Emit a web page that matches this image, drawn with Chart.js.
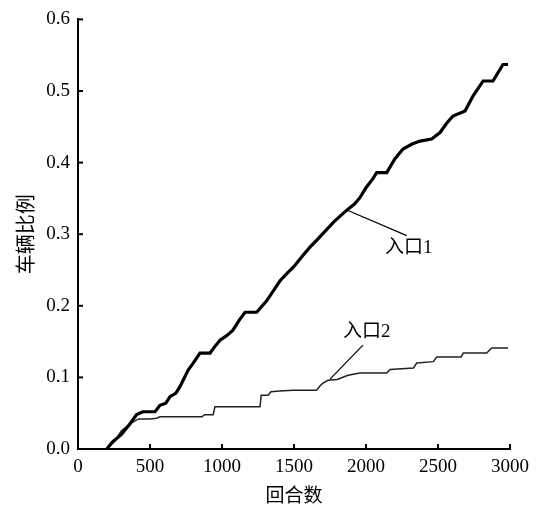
<!DOCTYPE html>
<html>
<head>
<meta charset="utf-8">
<script src="https://cdn.jsdelivr.net/npm/chart.js@4/dist/chart.umd.min.js"></script>
<style>
  html, body { margin: 0; padding: 0; background: #fff; }
  #wrap { width: 537px; height: 508px; }
</style>
</head>
<body>
<div id="wrap"><canvas id="ratioChart"></canvas></div>
<script>
// 入口1 (thick line)
const rounds1 = [200, 240, 300, 360, 407, 451, 535, 569, 610, 639, 680, 708, 764, 800, 847, 917, 950, 986, 1030, 1076, 1120, 1160, 1241, 1310, 1360, 1403, 1450, 1500, 1560, 1611, 1660, 1720, 1780, 1830, 1875, 1920, 1958, 2000, 2049, 2074, 2144, 2200, 2257, 2320, 2375, 2456, 2514, 2560, 2604, 2688, 2743, 2813, 2882, 2951, 2986];
const ratio1  = [0, 0.01, 0.02, 0.035, 0.048, 0.052, 0.052, 0.061, 0.064, 0.073, 0.078, 0.087, 0.11, 0.12, 0.134, 0.134, 0.143, 0.152, 0.158, 0.166, 0.18, 0.191, 0.191, 0.207, 0.222, 0.235, 0.245, 0.255, 0.27, 0.282, 0.292, 0.305, 0.318, 0.327, 0.335, 0.342, 0.351, 0.365, 0.378, 0.386, 0.386, 0.405, 0.419, 0.426, 0.43, 0.433, 0.442, 0.455, 0.465, 0.472, 0.493, 0.514, 0.514, 0.537, 0.537];

// 入口2 (thin stepped line)
const rounds2 = [200, 260, 300, 360, 420, 500, 546, 569, 860, 880, 938, 951, 1264, 1272, 1320, 1340, 1400, 1493, 1657, 1680, 1701, 1736, 1800, 1875, 1958, 2144, 2167, 2329, 2352, 2468, 2491, 2660, 2676, 2838, 2873, 2986];
const ratio2  = [0, 0.012, 0.025, 0.035, 0.042, 0.042, 0.043, 0.045, 0.045, 0.048, 0.048, 0.059, 0.059, 0.075, 0.075, 0.080, 0.081, 0.082, 0.082, 0.088, 0.092, 0.096, 0.097, 0.103, 0.106, 0.106, 0.111, 0.113, 0.120, 0.122, 0.1285, 0.1285, 0.134, 0.134, 0.141, 0.141];

const xTicks = [0, 500, 1000, 1500, 2000, 2500, 3000];
const yTicks = [0, 0.1, 0.2, 0.3, 0.4, 0.5, 0.6];

const FONT = '"Liberation Serif", "Noto Sans CJK SC", serif';

// callout labels, anchored in data units
const callouts = [
  { text: '入口1', from: [1875, 0.333], to: [2283, 0.298], at: [2132, 0.281] },
  { text: '入口2', from: [1750, 0.0975], to: [1979, 0.145], at: [1840, 0.163] }
];

const toPoints = (xs, ys) => xs.map((x, i) => ({ x, y: ys[i] }));

// inward tick marks + callouts
const extrasPlugin = {
  id: 'extras',
  afterDraw(chart) {
    const { ctx, scales: { x, y } } = chart;
    ctx.save();
    ctx.strokeStyle = '#000';
    ctx.lineWidth = 2;
    xTicks.forEach(v => {
      const px = x.getPixelForValue(v);
      ctx.beginPath();
      ctx.moveTo(px, y.bottom);
      ctx.lineTo(px, y.bottom - 5);
      ctx.stroke();
    });
    yTicks.forEach(v => {
      const py = y.getPixelForValue(v);
      ctx.beginPath();
      ctx.moveTo(x.left, py);
      ctx.lineTo(x.left + 5, py);
      ctx.stroke();
    });

    ctx.lineWidth = 1.2;
    ctx.fillStyle = '#000';
    ctx.font = '19px ' + FONT;
    ctx.textBaseline = 'middle';
    ctx.textAlign = 'left';
    callouts.forEach(c => {
      ctx.beginPath();
      ctx.moveTo(x.getPixelForValue(c.from[0]), y.getPixelForValue(c.from[1]));
      ctx.lineTo(x.getPixelForValue(c.to[0]), y.getPixelForValue(c.to[1]));
      ctx.stroke();
      ctx.fillText(c.text, x.getPixelForValue(c.at[0]), y.getPixelForValue(c.at[1]));
    });
    ctx.restore();
  }
};

const ctx = document.getElementById('ratioChart').getContext('2d');
new Chart(ctx, {
  type: 'line',
  data: {
    datasets: [
      {
        label: '入口1',
        data: toPoints(rounds1, ratio1),
        borderColor: '#000',
        borderWidth: 3.2,
        pointRadius: 0,
        tension: 0
      },
      {
        label: '入口2',
        data: toPoints(rounds2, ratio2),
        borderColor: '#222',
        borderWidth: 1.5,
        pointRadius: 0,
        tension: 0
      }
    ]
  },
  options: {
    responsive: true,
    maintainAspectRatio: false,
    animation: false,
    layout: { padding: { top: 18, right: 27, left: 0, bottom: 0 } },
    plugins: { legend: { display: false }, tooltip: { enabled: false } },
    scales: {
      x: {
        type: 'linear',
        min: 0,
        max: 3000,
        afterBuildTicks: s => { s.ticks = xTicks.map(v => ({ value: v })); },
        afterFit: s => { s.height = 59; },
        grid: { display: true, drawOnChartArea: false, drawTicks: false },
        border: { display: true, color: '#000', width: 2 },
        ticks: {
          color: '#000',
          padding: 7,
          maxRotation: 0,
          font: { family: FONT, size: 19 },
          callback: v => String(v)
        },
        title: {
          display: true,
          text: '回合数',
          color: '#000',
          padding: { top: 0, bottom: 0 },
          font: { family: FONT, size: 19 }
        }
      },
      y: {
        min: 0,
        max: 0.6,
        afterBuildTicks: s => { s.ticks = yTicks.map(v => ({ value: v })); },
        afterFit: s => { s.width = 78; },
        grid: { display: true, drawOnChartArea: false, drawTicks: false },
        border: { display: true, color: '#000', width: 2 },
        ticks: {
          color: '#000',
          padding: 8,
          font: { family: FONT, size: 19 },
          callback: v => Number(v).toFixed(1)
        },
        title: {
          display: true,
          text: '车辆比例',
          color: '#000',
          padding: { top: 16, bottom: 0 },
          font: { family: FONT, size: 20 }
        }
      }
    }
  },
  plugins: [extrasPlugin]
});
</script>
</body>
</html>
